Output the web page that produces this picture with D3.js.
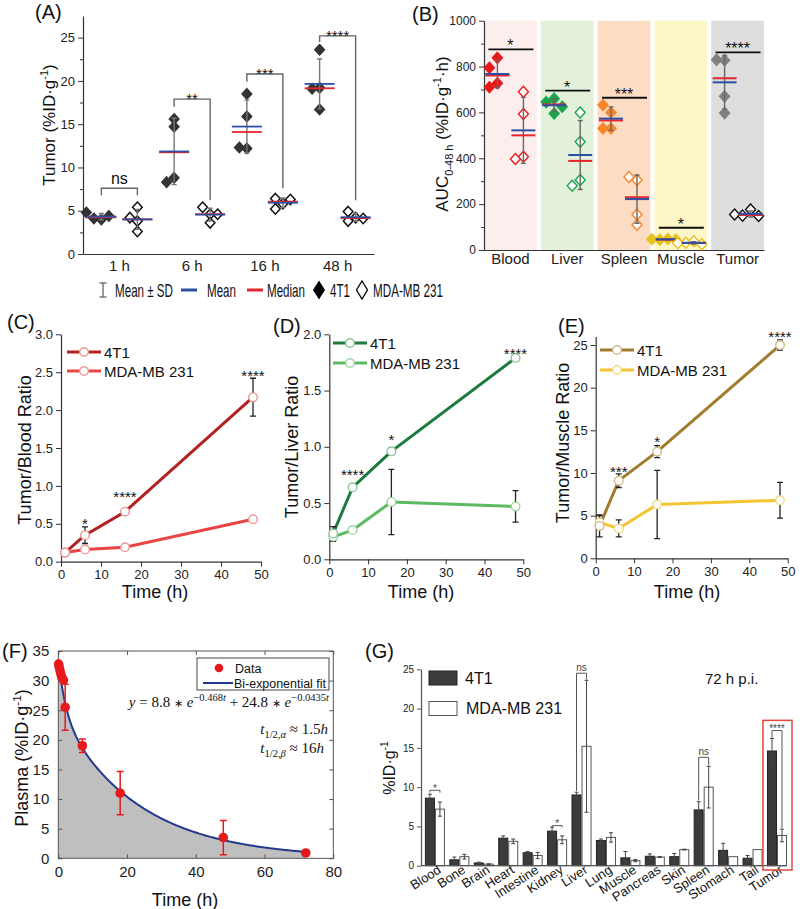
<!DOCTYPE html>
<html><head><meta charset="utf-8">
<script src="https://cdn.jsdelivr.net/npm/d3@7"></script>
<style>body{margin:0;background:#fff}svg{display:block}</style>
</head><body><script>
// ---------------- DATA ----------------
// Panel A
const timeLabels = ["1 h","6 h","16 h","48 h"];
const tumor4T1 = [[4.0,4.1,4.4,4.8],[15.6,14.7,8.8,8.3],[18.5,15.9,12.2,12.3],[23.6,19.2,19.1,16.7]];
const tumorMDA = [[3.8,5.4,4.2,2.6],[4.6,5.4,4.6,3.6],[5.8,6.4,5.2,6.3],[4.2,4.9,4.1,3.8]];
const sigA = [{label:"ns",top:7.6,left:6.8,right:6.8},{label:"**",top:17.9,left:17.0,right:6.2},
              {label:"***",top:20.8,left:19.9,right:7.6},{label:"****",top:25.2,left:24.5,right:6.2}];
// Panel B
const organsB = ["Blood","Liver","Spleen","Muscle","Tumor"];
const auc4T1 = [[838,795,727,710],[660,645,625,595],[600,632,530,530],[48,45,45,47],[828,830,670,597]];
const aucMDA = [[690,593,407,397],[600,472,305,280],[305,318,155,110],[38,32,25,30],[177,150,148,155]];
const sigB = [{label:"*",y:875},{label:"*",y:695},{label:"***",y:664},{label:"*",y:97},{label:"****",y:862}];
// Legend row
const legendLabels = ["Mean ± SD","Mean","Median","4T1","MDA-MB 231"];
// Panels C, D, E
const hours = [1,6,16,48];
const blood4T1 = [0.12,0.35,0.66,2.17], blood4T1Sd = [0.04,0.11,0.02,0.25];
const bloodMDA = [0.12,0.16,0.19,0.56], bloodMDASd = [0.03,0.03,0.03,0.02];
const starsC = [{t:6,y:0.55,s:"*"},{t:16,y:0.9,s:"****"},{t:48,y:2.5,s:"****"}];
const liver4T1 = [0.23,0.64,0.96,1.79], liver4T1Sd = [0.06,0.02,0.03,0.02];
const liverMDA = [0.20,0.26,0.51,0.47], liverMDASd = [0.04,0.02,0.29,0.14];
const starsD = [{t:6,y:0.78,s:"****"},{t:16,y:1.09,s:"*"},{t:48,y:1.86,s:"****"}];
const muscle4T1 = [3.8,9.1,12.5,25.0], muscle4T1Sd = [1.3,0.8,0.7,0.6];
const muscleMDA = [4.2,3.5,6.3,6.8], muscleMDASd = [0.8,1.0,4.0,2.1];
const starsE = [{t:6,y:10.55,s:"***"},{t:16,y:14.07,s:"*"},{t:48,y:26.4,s:"****"}];
// Panel F
const plasmaT = [0.08,0.25,0.5,0.75,1,1.5,2,7,18,48,72];
const plasmaV = [32.8,32.3,31.7,31.1,30.6,30.1,25.5,19.0,11.0,3.5,0.9];
const plasmaSd = [0,0,0,0,0,0,3.9,1.15,3.65,2.9,0];
const fitAmp = [8.8,24.8], fitRate = [0.468,0.0435];   // from the printed fit equation
// Panel G
const organsG = ["Blood","Bone","Brain","Heart","Intestine","Kidney","Liver","Lung","Muscle","Pancreas","Skin","Spleen","Stomach","Tail","Tumor"];
const g4T1   = [8.6,0.75,0.35,3.5,1.65,4.4,9.0,3.2,1.0,1.2,1.15,7.1,1.95,0.95,14.6];
const g4T1Sd = [0.5,0.35,0.1,0.3,0.15,0.5,0.35,0.2,0.8,0.3,0.4,1.05,0.9,0.35,1.6];
const gMDA   = [7.2,1.15,0.2,3.1,1.3,3.3,15.2,3.6,0.65,1.1,2.05,10.0,1.15,2.05,3.85];
const gMDASd = [0.9,0.3,0.05,0.3,0.4,0.5,8.4,0.6,0.15,0.05,0.05,2.65,0,0,0.8];
const sigG = [{organ:"Blood",label:"*",top:9.6,left:9.3,right:9.3},{organ:"Kidney",label:"*",top:5.1,left:4.9,right:4.9},
              {organ:"Liver",label:"ns",top:24.5,left:9.5,right:23.7},{organ:"Spleen",label:"ns",top:13.8,left:8.3,right:12.8},
              {organ:"Tumor",label:"****",top:17.2,left:16.3,right:4.8}];

// ---------------- STYLE ----------------
const SANS = '"Liberation Sans", Arial, sans-serif';
const SERIF = '"Liberation Serif", "Times New Roman", serif';
const MEAN_C = "#2d4fa3", MED_C = "#e3262b";
const colB = ["#e8191c","#1aa64a","#f7862a","#e6c21c","#808080"];
const colBOpen = ["#e8191c","#1aa64a","#f7862a","#e6c21c","#111111"];
const bgB = ["#fdeeee","#e3f0da","#fcdcc2","#fdf6c6","#dedede"];

const svg = d3.select("body").append("svg").attr("width",800).attr("height",909).attr("font-family",SANS);

function styleAxis(g, fs){
  g.selectAll(".domain").attr("stroke","#333").attr("stroke-width",1.2);
  g.selectAll(".tick line").attr("stroke","#333").attr("stroke-width",1);
  g.selectAll(".tick text").attr("fill","#222").attr("font-size",fs).attr("font-family",SANS);
}
function errBar(g,x,y1,y2,cap,color,w){
  g.append("path").attr("d",`M${x},${y1}V${y2}M${x-cap},${y1}H${x+cap}M${x-cap},${y2}H${x+cap}`)
   .attr("stroke",color).attr("stroke-width",w).attr("fill","none");
}
function txt(g,x,y,s,o={}){
  const t=g.append("text").attr("x",x).attr("y",y).text(s).attr("font-size",o.fs||14).attr("fill",o.fill||"#111");
  if(o.anchor) t.attr("text-anchor",o.anchor);
  if(o.family) t.attr("font-family",o.family);
  if(o.style) t.attr("font-style",o.style);
  if(o.len) t.attr("textLength",o.len).attr("lengthAdjust","spacingAndGlyphs");
  return t;
}
function richText(t, parts, fs){
  let shift=0;
  parts.forEach(p=>{
    const target = p.sup? -fs*0.42 : p.sub? fs*0.28 : 0;
    const ts=t.append("tspan").text(p.s).attr("dy",target-shift);
    if(p.sup||p.sub) ts.attr("font-size",fs*(p.scale||0.65));
    else if(p.fs) ts.attr("font-size",p.fs);
    if(p.it) ts.attr("font-style","italic");
    shift=target;
  });
  return t;
}
function rotLabel(g,cx,cy,parts,fs){
  const t=g.append("text").attr("transform",`translate(${cx+fs*0.36},${cy}) rotate(-90)`)
    .attr("text-anchor","middle").attr("font-size",fs).attr("fill","#111");
  return richText(t,parts,fs);
}
const diamond=(rx,ry)=>`M0,${-ry}L${rx},0L0,${ry}L${-rx},0Z`;
function swarm(vals,y,minDy,step){
  const placed=[];
  return vals.map(v=>{
    const py=y(v);
    for(const k of [0,-1,1,-2,2,-3,3]){
      const px=k*step;
      if(placed.every(p=>Math.abs(p.x-px)>=step*0.99||Math.abs(p.y-py)>=minDy)){placed.push({x:px,y:py});return px;}
    }
    return 0;
  });
}
function panelLabel(x,y,s){ txt(svg,x,y,s,{fs:20}); }

// ---------------- PANEL A ----------------
{
  const g=svg.append("g");
  const x=d3.scaleBand().domain(timeLabels).range([83,374]);
  const y=d3.scaleLinear().domain([0,27.5]).range([254,16]);
  g.append("g").attr("transform","translate(83,0)")
    .call(d3.axisLeft(y).tickValues([0,5,10,15,20,25]).tickSize(5).tickSizeOuter(0).tickPadding(3)).call(styleAxis,13);
  g.append("g").attr("transform","translate(83,0)")
    .call(d3.axisLeft(y).tickValues([2.5,7.5,12.5,17.5,22.5]).tickSize(3).tickFormat(""))
    .call(a=>a.select(".domain").remove()).call(styleAxis,13);
  g.append("g").attr("transform","translate(0,254)")
    .call(d3.axisBottom(x).tickSize(0).tickPadding(6).tickSizeOuter(0)).call(styleAxis,15);
  const series=[{vals:tumor4T1,off:-18,filled:true},{vals:tumorMDA,off:18,filled:false}];
  timeLabels.forEach((t,i)=>{
    const c=x(t)+x.bandwidth()/2;
    series.forEach(s=>{
      const vals=s.vals[i], cx=c+s.off;
      const m=d3.mean(vals), sd=d3.deviation(vals), med=d3.median(vals);
      const offs=swarm(vals,y,7,7.5);
      vals.forEach((v,k)=>{
        g.append("path").attr("d",diamond(4.8,5.2)).attr("transform",`translate(${cx+offs[k]},${y(v)})`)
          .attr("fill",s.filled?"#333":"#fff").attr("stroke",s.filled?"#333":"#111").attr("stroke-width",1.5);
      });
      errBar(g,cx,y(m-sd),y(m+sd),2.5,"#777",1.4);
      g.append("line").attr("x1",cx-15).attr("x2",cx+15).attr("y1",y(med)).attr("y2",y(med)).attr("stroke",MED_C).attr("stroke-width",1.8);
      g.append("line").attr("x1",cx-15).attr("x2",cx+15).attr("y1",y(m)).attr("y2",y(m)).attr("stroke",MEAN_C).attr("stroke-width",1.8);
    });
    const s=sigA[i], xl=c-18, xr=c+18;
    g.append("path").attr("d",`M${xl},${y(s.left)}V${y(s.top)}H${xr}V${y(s.right)}`)
      .attr("fill","none").attr("stroke","#666").attr("stroke-width",1.4);
    if(s.label==="ns") txt(g,c,y(s.top)-4,s.label,{fs:16,anchor:"middle"});
    else txt(g,c,y(s.top)+5,s.label,{fs:15,anchor:"middle"});
  });
  rotLabel(g,49,125,[{s:"Tumor (%ID·g"},{s:"-1",sup:true},{s:")"}],17);
  panelLabel(35,19,"(A)");
}

// ---------------- PANEL B ----------------
{
  const g=svg.append("g");
  const x=d3.scaleBand().domain(organsB).range([484,764]).paddingInner(0.07);
  const y=d3.scaleLinear().domain([0,1000]).range([250,20.7]);
  organsB.forEach((o,i)=>{
    g.append("rect").attr("x",x(o)).attr("width",x.bandwidth()).attr("y",y(1000)).attr("height",y(0)-y(1000)).attr("fill",bgB[i]);
  });
  g.append("g").attr("transform","translate(484,0)")
    .call(d3.axisLeft(y).tickValues([0,200,400,600,800,1000]).tickFormat(d3.format("d")).tickSize(5).tickSizeOuter(0).tickPadding(3)).call(styleAxis,12);
  g.append("g").attr("transform","translate(484,0)")
    .call(d3.axisLeft(y).tickValues([100,300,500,700,900]).tickSize(3).tickFormat(""))
    .call(a=>a.select(".domain").remove()).call(styleAxis,12);
  g.append("g").attr("transform","translate(0,250)")
    .call(d3.axisBottom(x).tickSize(0).tickPadding(3).tickSizeOuter(0)).call(styleAxis,15);
  organsB.forEach((o,i)=>{
    const c=x(o)+x.bandwidth()/2;
    [{vals:auc4T1[i],off:-13,filled:true},{vals:aucMDA[i],off:13,filled:false}].forEach(s=>{
      const vals=s.vals, cx=c+s.off;
      const m=d3.mean(vals), sd=d3.deviation(vals), med=d3.median(vals);
      const offs=swarm(vals,y,10,8);
      vals.forEach((v,k)=>{
        g.append("path").attr("d",diamond(5,5.5)).attr("transform",`translate(${cx+offs[k]},${y(v)})`)
          .attr("fill",s.filled?colB[i]:"#fff").attr("stroke",s.filled?colB[i]:colBOpen[i]).attr("stroke-width",1.4);
      });
      errBar(g,cx,y(m-sd),y(m+sd),2.5,"#666",1.4);
      g.append("line").attr("x1",cx-12).attr("x2",cx+12).attr("y1",y(med)).attr("y2",y(med)).attr("stroke",MED_C).attr("stroke-width",2);
      g.append("line").attr("x1",cx-12).attr("x2",cx+12).attr("y1",y(m)).attr("y2",y(m)).attr("stroke",MEAN_C).attr("stroke-width",2);
    });
    const s=sigB[i];
    g.append("line").attr("x1",c-22).attr("x2",c+23).attr("y1",y(s.y)).attr("y2",y(s.y)).attr("stroke","#111").attr("stroke-width",1.8);
    txt(g,c,y(s.y)+2,s.label,{fs:16,anchor:"middle"});
  });
  rotLabel(g,442,134,[{s:"AUC"},{s:"0-48 h",sub:true},{s:" (%ID·g"},{s:"-1",sup:true},{s:"·h)"}],17);
  panelLabel(412,21,"(B)");
}

// ---------------- LEGEND ROW ----------------
{
  const g=svg.append("g");
  const ly=290, by=296.5, fs=18.5;
  errBar(g,103,283,297,3.5,"#777",1.5);
  txt(g,115,by,legendLabels[0],{fs,len:58});
  g.append("line").attr("x1",181).attr("x2",197).attr("y1",ly).attr("y2",ly).attr("stroke",MEAN_C).attr("stroke-width",3);
  txt(g,207,by,legendLabels[1],{fs,len:29});
  g.append("line").attr("x1",247).attr("x2",263).attr("y1",ly).attr("y2",ly).attr("stroke",MED_C).attr("stroke-width",3);
  txt(g,267,by,legendLabels[2],{fs,len:38});
  g.append("path").attr("d",diamond(6,9.5)).attr("transform",`translate(319,${ly})`).attr("fill","#000");
  txt(g,330,by,legendLabels[3],{fs,len:20});
  g.append("path").attr("d",diamond(5.5,9)).attr("transform",`translate(362,${ly})`).attr("fill","#fff").attr("stroke","#000").attr("stroke-width",1.3);
  txt(g,373,by,legendLabels[4],{fs,len:70});
}

// ---------------- PANELS C, D, E ----------------
function ratioPanel(o){
  const g=svg.append("g");
  const x=d3.scaleLinear().domain([0,50]).range([o.x0,o.x1]);
  const y=d3.scaleLinear().domain(o.yDom).range([o.yb,o.yt]);
  g.append("g").attr("transform",`translate(${o.x0},0)`)
    .call(d3.axisLeft(y).tickValues(o.yTicks).tickFormat(d3.format(o.fmt)).tickSize(5).tickSizeOuter(0).tickPadding(3)).call(styleAxis,13);
  g.append("g").attr("transform",`translate(0,${o.yb})`)
    .call(d3.axisBottom(x).tickValues([0,10,20,30,40,50]).tickSize(5).tickSizeOuter(0).tickPadding(3)).call(styleAxis,13);
  const ser=[{v:o.b,sd:o.bSd,c:o.cB,mk:o.mB},{v:o.a,sd:o.aSd,c:o.cA,mk:o.mA}];
  const line=d3.line().x((d,i)=>x(hours[i])).y(d=>y(d));
  ser.forEach(s=>g.append("path").attr("d",line(s.v)).attr("fill","none").attr("stroke",s.c).attr("stroke-width",3));
  ser.forEach(s=>s.v.forEach((v,i)=>errBar(g,x(hours[i]),y(v-s.sd[i]),y(v+s.sd[i]),3,"#222",1.3)));
  ser.forEach(s=>s.v.forEach((v,i)=>g.append("circle").attr("cx",x(hours[i])).attr("cy",y(v)).attr("r",4.3)
      .attr("fill","#fff").attr("stroke",s.mk).attr("stroke-width",1.4)));
  o.stars.forEach(s=>txt(g,x(s.t),y(s.y)+8.5,s.s,{fs:15,anchor:"middle"}));
  [{lab:"4T1",c:o.cA,mk:o.mA,yy:o.legY[0]},{lab:"MDA-MB 231",c:o.cB,mk:o.mB,yy:o.legY[1]}].forEach(l=>{
    g.append("line").attr("x1",o.legX).attr("x2",o.legX+34).attr("y1",l.yy).attr("y2",l.yy).attr("stroke",l.c).attr("stroke-width",3);
    g.append("circle").attr("cx",o.legX+17).attr("cy",l.yy).attr("r",4.3).attr("fill","#fff").attr("stroke",l.mk).attr("stroke-width",1.4);
    txt(g,o.legX+37,l.yy+5.5,l.lab,{fs:15});
  });
  rotLabel(g,o.ylx,o.yly,[{s:o.ylab}],18);
  txt(g,o.tlx,598,"Time (h)",{fs:18,anchor:"middle"});
  panelLabel(o.plx,o.ply,o.pl);
}
ratioPanel({x0:61,x1:261,yt:334.3,yb:561.7,yDom:[0,3],yTicks:[0,0.5,1,1.5,2,2.5,3],fmt:".1f",
  a:blood4T1,aSd:blood4T1Sd,b:bloodMDA,bSd:bloodMDASd,cA:"#b3201f",cB:"#ea4545",mA:"#e39a95",mB:"#ec9a98",
  stars:starsC,legX:67,legY:[352,371],ylab:"Tumor/Blood Ratio",ylx:25,yly:450,tlx:155,plx:7,ply:329,pl:"(C)"});
ratioPanel({x0:329.3,x1:523.3,yt:334.3,yb:559.3,yDom:[0,2],yTicks:[0,0.5,1,1.5,2],fmt:".1f",
  a:liver4T1,aSd:liver4T1Sd,b:liverMDA,bSd:liverMDASd,cA:"#1c7b3d",cB:"#5dba62",mA:"#8fc79a",mB:"#9ed5a2",
  stars:starsD,legX:333,legY:[343,363],ylab:"Tumor/Liver Ratio",ylx:292,yly:447,tlx:421,plx:273,ply:333,pl:"(D)"});
ratioPanel({x0:595.7,x1:787.7,yt:336.5,yb:558.3,yDom:[0,26],yTicks:[0,5,10,15,20,25],fmt:"d",
  a:muscle4T1,aSd:muscle4T1Sd,b:muscleMDA,bSd:muscleMDASd,cA:"#a27b2c",cB:"#f3c432",mA:"#d3bb8a",mB:"#f1d98a",
  stars:starsE,legX:600,legY:[350,370],ylab:"Tumor/Muscle Ratio",ylx:563,yly:443,tlx:687,plx:558,ply:333,pl:"(E)"});

// ---------------- PANEL F ----------------
{
  const g=svg.append("g");
  const x=d3.scaleLinear().domain([0,80]).range([58.3,333.3]);
  const y=d3.scaleLinear().domain([0,35]).range([858.3,651]);
  const fit=t=>fitAmp[0]*Math.exp(-fitRate[0]*t)+fitAmp[1]*Math.exp(-fitRate[1]*t);
  const ts=d3.range(0,72.01,0.25);
  g.append("path").attr("d",d3.area().x(t=>x(t)).y0(y(0)).y1(t=>y(fit(t)))(ts)).attr("fill","#bfbfbf");
  g.append("path").attr("d",d3.line().x(t=>x(t)).y(t=>y(fit(t)))(ts)).attr("fill","none").attr("stroke","#23398f").attr("stroke-width",2);
  g.append("rect").attr("x",58.3).attr("y",651).attr("width",275).attr("height",207.3).attr("fill","none").attr("stroke","#555").attr("stroke-width",1);
  const yt=[0,5,10,15,20,25,30,35], xt=[0,20,40,60,80];
  g.append("g").attr("transform","translate(58.3,0)").call(d3.axisLeft(y).tickValues(yt).tickSize(-4).tickSizeOuter(0).tickPadding(9)).call(styleAxis,15).call(a=>a.select(".domain").remove());
  g.append("g").attr("transform","translate(333.3,0)").call(d3.axisRight(y).tickValues(yt).tickSize(-4).tickSizeOuter(0).tickFormat("")).call(styleAxis,15).call(a=>a.select(".domain").remove());
  g.append("g").attr("transform","translate(0,858.3)").call(d3.axisBottom(x).tickValues(xt).tickSize(-4).tickSizeOuter(0).tickPadding(8)).call(styleAxis,15).call(a=>a.select(".domain").remove());
  g.append("g").attr("transform","translate(0,651)").call(d3.axisTop(x).tickValues(xt).tickSize(-4).tickSizeOuter(0).tickFormat("")).call(styleAxis,15).call(a=>a.select(".domain").remove());
  g.selectAll(".tick line").attr("stroke","#555");
  plasmaT.forEach((t,i)=>{
    if(plasmaSd[i]>0) errBar(g,x(t),y(plasmaV[i]-plasmaSd[i]),y(plasmaV[i]+plasmaSd[i]),3.5,"#e8191c",1.5);
  });
  plasmaT.forEach((t,i)=>g.append("circle").attr("cx",x(t)).attr("cy",y(plasmaV[i])).attr("r",4.8).attr("fill","#e8191c"));
  // legend
  g.append("rect").attr("x",197).attr("y",658).attr("width",132).attr("height",32).attr("fill","#fff").attr("stroke","#444").attr("stroke-width",1);
  g.append("circle").attr("cx",219).attr("cy",668).attr("r",4.3).attr("fill","#e8191c");
  txt(g,235,672.5,"Data",{fs:12.5});
  g.append("line").attr("x1",203).attr("x2",233).attr("y1",683).attr("y2",683).attr("stroke","#23398f").attr("stroke-width",2);
  txt(g,234,687.5,"Bi-exponential fit",{fs:12.5,len:92});
  // equation
  const eq=g.append("text").attr("x",329).attr("y",707).attr("text-anchor","end").attr("font-family",SERIF).attr("font-size",15).attr("fill","#111");
  richText(eq,[{s:"y",it:true},{s:" = 8.8 "},{s:"∗",fs:11},{s:" "},{s:"e",it:true},{s:"−0.468",sup:true,scale:0.7},{s:"t",sup:true,it:true,scale:0.7},{s:" + 24.8 "},{s:"∗",fs:11},{s:" "},{s:"e",it:true},{s:"−0.0435",sup:true,scale:0.7},{s:"t",sup:true,it:true,scale:0.7}],15);
  const l2=g.append("text").attr("x",328).attr("y",734).attr("text-anchor","end").attr("font-family",SERIF).attr("font-size",15).attr("fill","#111");
  richText(l2,[{s:"t",it:true},{s:"1/2,",sub:true,scale:0.7},{s:"α",sub:true,it:true,scale:0.7},{s:" ≈ 1.5"},{s:"h",it:true}],15);
  const l3=g.append("text").attr("x",324).attr("y",753).attr("text-anchor","end").attr("font-family",SERIF).attr("font-size",15).attr("fill","#111");
  richText(l3,[{s:"t",it:true},{s:"1/2,",sub:true,scale:0.7},{s:"β",sub:true,it:true,scale:0.7},{s:" ≈ 16"},{s:"h",it:true}],15);
  rotLabel(g,22,758,[{s:"Plasma (%ID·g"},{s:"-1",sup:true},{s:")"}],18);
  txt(g,185,906,"Time (h)",{fs:18,anchor:"middle"});
  panelLabel(2,658,"(F)");
}

// ---------------- PANEL G ----------------
{
  const g=svg.append("g");
  const x0=d3.scaleBand().domain(organsG).range([421,787]).paddingInner(0.18).paddingOuter(0.08).align(1);
  const x1=d3.scaleBand().domain(["4T1","MDA"]).range([0,x0.bandwidth()]);
  const y=d3.scaleLinear().domain([0,25]).range([865.7,669.3]);
  g.append("g").attr("transform","translate(421,0)")
    .call(d3.axisLeft(y).tickValues([0,5,10,15,20,25]).tickSize(4).tickSizeOuter(0).tickPadding(3)).call(styleAxis,10)
    .call(a=>a.selectAll(".domain,.tick line").attr("stroke","#555"));
  organsG.forEach((o,i)=>{
    const bx=x0(o);
    [{v:g4T1[i],sd:g4T1Sd[i],k:"4T1",fill:"#3b3b3b",st:"#222"},{v:gMDA[i],sd:gMDASd[i],k:"MDA",fill:"#fff",st:"#555"}].forEach(b=>{
      const xx=bx+x1(b.k);
      g.append("rect").attr("x",xx+0.5).attr("width",x1.bandwidth()-1).attr("y",y(b.v)).attr("height",y(0)-y(b.v))
        .attr("fill",b.fill).attr("stroke",b.st).attr("stroke-width",1);
      if(b.sd>0) errBar(g,xx+x1.bandwidth()/2,y(b.v-b.sd),y(b.v+b.sd),2,"#444",1);
    });
    g.append("text").attr("transform",`translate(${bx+x0.bandwidth()/2+7},872) rotate(-33)`)
      .attr("text-anchor","end").attr("font-size",13).attr("fill","#111").text(o);
  });
  g.append("line").attr("x1",421).attr("x2",787).attr("y1",865.7).attr("y2",865.7).attr("stroke","#555").attr("stroke-width",1.2);
  sigG.forEach(s=>{
    const bx=x0(s.organ), xl=bx+x1("4T1")+x1.bandwidth()/2, xr=bx+x1("MDA")+x1.bandwidth()/2;
    g.append("path").attr("d",`M${xl},${y(s.left)}V${y(s.top)}H${xr}V${y(s.right)}`).attr("fill","none").attr("stroke","#555").attr("stroke-width",1);
    if(s.label==="ns") txt(g,(xl+xr)/2,y(s.top)-2,s.label,{fs:10,anchor:"middle",fill:"#444"});
    else txt(g,(xl+xr)/2,y(s.top)+1.5,s.label,{fs:10,anchor:"middle",fill:"#444"});
  });
  const tb=x0("Tumor");
  g.append("rect").attr("x",tb-4).attr("y",y(18.5)).attr("width",x0.bandwidth()+9).attr("height",870-y(18.5))
    .attr("fill","none").attr("stroke","#e0463c").attr("stroke-width",1.5);
  g.append("rect").attr("x",429).attr("y",671).attr("width",28).attr("height",14).attr("fill","#3b3b3b").attr("stroke","#222");
  txt(g,465,684,"4T1",{fs:16});
  g.append("rect").attr("x",429).attr("y",701.5).attr("width",28).attr("height",14).attr("fill","#fff").attr("stroke","#555");
  txt(g,466,714,"MDA-MB 231",{fs:16});
  txt(g,705,684,"72 h p.i.",{fs:15});
  rotLabel(g,389,768,[{s:"%ID·g"},{s:"-1",sup:true}],16);
  panelLabel(365,658,"(G)");
}
</script></body></html>
